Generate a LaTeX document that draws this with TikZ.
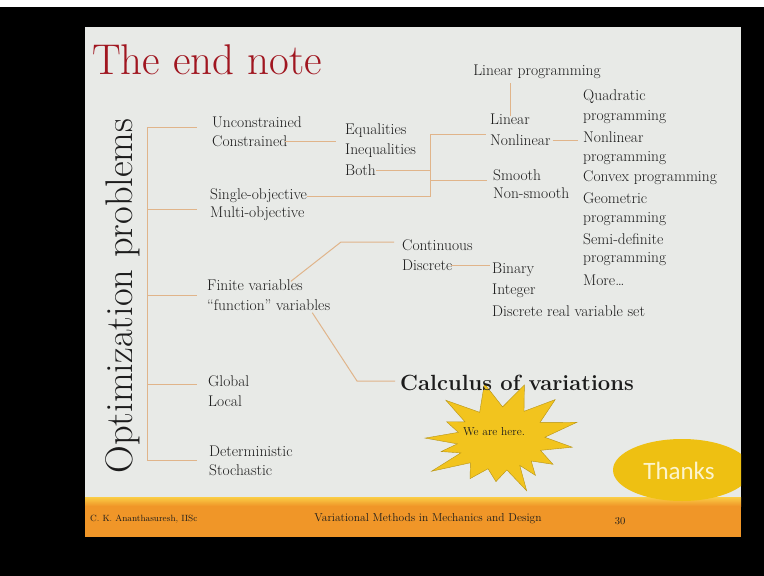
\documentclass[tikz,border=0pt]{standalone}
\usepackage{fontspec}
\newfontfamily\thanksfont{Carlito}
\usetikzlibrary{calc}

\definecolor{slidebg}{RGB}{232,234,231}
\definecolor{titlered}{RGB}{160,22,32}
\definecolor{linkcol}{RGB}{224,180,138}
\definecolor{footorange}{RGB}{240,150,40}
\definecolor{footyellow}{RGB}{250,205,70}
\definecolor{stargold}{RGB}{242,196,30}
\definecolor{thanksgold}{RGB}{238,192,18}
\definecolor{thankstext}{RGB}{252,244,205}
\definecolor{textgrey}{RGB}{28,28,28}

\begin{document}
\begin{tikzpicture}[x=1pt, y=-1pt,
  txt/.style={anchor=west, inner sep=0pt, text=textgrey, font=\fontsize{15.5}{17}\selectfont},
  link/.style={draw=linkcol, line width=1pt},
  foot/.style={inner sep=0pt, text=textgrey, font=\fontsize{10.5}{12}\selectfont}]
\useasboundingbox (0,0) rectangle (764,576);

  % frame and slide
  \fill [black] (0,0) rectangle (764,576);
  \fill [white] (0,0) rectangle (764,7);
  \fill [slidebg] (85,27) rectangle (741,537);
  \fill [footorange] (85,498) rectangle (741,537);
  \shade [top color=footyellow, bottom color=footorange] (85,497) rectangle (741,506);

  % title
  \draw (92,74) node [anchor=base west, inner sep=0pt, text=titlered,
    font=\fontsize{43}{50}\selectfont] (ttl) {The end note};
  \draw (123,296) node [rotate=90, inner sep=0pt, text=textgrey,
    font=\fontsize{38.5}{42}\selectfont] (opt) {Optimization problems};

  % star (behind the text)
  \begin{scope}[shift={(501,440)}, yscale=0.72]
    \fill [stargold, draw=stargold!75!black, line width=0.4pt] (8:72)
      \foreach \a/\r in {20/42, 33/62, 44/42, 55/60, 62/40, 70/75, 82/42, 95/58, 108/42,
        120/62, 134/44, 148/82, 156/44, 165/62, 173/44, 182/76, 194/44, 205/60, 215/44,
        225/78, 241/44, 258/80, 272/46, 287/80, 300/46, 314/78, 328/46, 342/80, 355/44}
        { -- (\a:\r) } -- cycle;
  \end{scope}
  \draw (494,432) node [inner sep=0pt, text=textgrey, font=\fontsize{11.5}{13}\selectfont] (here) {We are here.};

  % first level
  \draw (212,122) node [txt] (uncon) {Unconstrained};
  \draw (212,141) node [txt] (con) {Constrained};
  \draw (210,196) node [txt] (sobj) {Single-objective};
  \draw (210,214) node [txt] (mobj) {Multi-objective};
  \draw (207,285) node [txt] (fin) {Finite variables};
  \draw (207,305) node [txt] (fun) {``function'' variables};
  \draw (208,381) node [txt] (glob) {Global};
  \draw (208,401) node [txt] (loc) {Local};
  \draw (209,451) node [txt] (det) {Deterministic};
  \draw (209,470) node [txt] (sto) {Stochastic};

  % constraints
  \draw (345,131) node [txt] (eq) {Equalities};
  \draw (345,151) node [txt] (ineq) {Inequalities};
  \draw (345,170) node [txt] (both) {Both};

  % linear / smooth
  \draw (537,72) node [txt, anchor=center] (lp) {Linear programming};
  \draw (490,119) node [txt] (lin) {Linear};
  \draw (490,140) node [txt] (nlin) {Nonlinear};
  \draw (493,175) node [txt] (smo) {Smooth};
  \draw (493,193) node [txt] (nsmo) {Non-smooth};

  % nonlinear kinds
  \draw (583,97) node [txt] (quad) {Quadratic};
  \draw (583,117) node [txt] (p1) {programming};
  \draw (583,137) node [txt] (nlp) {Nonlinear};
  \draw (583,158) node [txt] (p2) {programming};
  \draw (583,178) node [txt] (cvx) {Convex programming};
  \draw (583,198) node [txt] (geo) {Geometric};
  \draw (583,219) node [txt] (p3) {programming};
  \draw (583,239) node [txt] (sdef) {Semi-definite};
  \draw (583,259) node [txt] (p4) {programming};
  \draw (583,280) node [txt] (more) {More\ldots};

  % variables
  \draw (402,245) node [txt] (cont) {Continuous};
  \draw (402,265) node [txt] (disc) {Discrete};
  \draw (492,270) node [txt] (bin) {Binary};
  \draw (492,291) node [txt] (int) {Integer};
  \draw (492,311) node [txt] (dset) {Discrete real variable set};
  \draw (400,383) node [txt, font=\bfseries\fontsize{22}{24}\selectfont] (cov) {Calculus of variations};

  % bracket
  \coordinate (b1) at (147,127);
  \coordinate (b2) at (147,209);
  \coordinate (b3) at (147,295);
  \coordinate (b4) at (147,384);
  \coordinate (b5) at (147,460);
  \draw [link] (b1) -- (b5);
  \draw [link] (b1) -- ++(50,0);
  \draw [link] (b2) -- ++(50,0);
  \draw [link] (b3) -- ++(50,0);
  \draw [link] (b4) -- ++(50,0);
  \draw [link] (b5) -- ++(50,0);

  % joins
  \coordinate (jt) at (430,134);
  \coordinate (jm) at (430,180);
  \coordinate (jb) at (430,197);
  \draw [link] ([xshift=-2pt]con.east) -- ([xshift=-9pt]con.east -| eq.west);
  \draw [link] (both.east) -- (both.east -| jt);
  \draw [link] (sobj.east) -- (sobj.east -| jb);
  \draw [link] (jt) -- (jb);
  \draw [link] (jt) -- ([xshift=-4pt]jt -| nlin.west);
  \draw [link] (jm) -- ([xshift=-6pt]jm -| smo.west);
  \draw [link] ([yshift=-3pt]lin.north) -- ([yshift=-4pt]lin.north |- lp.south);
  \draw [link] ([xshift=2pt]nlin.east) -- ([xshift=-5pt]nlin.east -| nlp.west);
  \draw [link] ([xshift=-2pt]disc.east) -- ([xshift=-2pt]disc.east -| bin.west);
  \coordinate (kf) at (341,242);
  \draw [link] ([xshift=-12pt,yshift=-2pt]fin.north east) -- (kf) -- ([xshift=-8pt]kf -| cont.west);
  \coordinate (kc) at (357,381);
  \draw [link] ([xshift=-18pt,yshift=-2pt]fun.south east) -- (kc) -- ([xshift=-5pt]kc -| cov.west);

  % thanks
  \begin{scope}
    \clip (85,27) rectangle (741,537);
    \fill [thanksgold] (682,470) ellipse [x radius=69pt, y radius=31pt];
  \end{scope}
  \draw (679,471) node [inner sep=0pt, text=thankstext, font=\thanksfont\fontsize{25}{28}\selectfont] (thx) {Thanks};

  % footer
  \draw (90,519) node [foot, anchor=west, font=\fontsize{9}{11}\selectfont] (auth) {C. K. Ananthasuresh, IISc};
  \draw (428,519) node [foot, font=\fontsize{11.5}{13}\selectfont] (course) {Variational Methods in Mechanics and Design};
  \draw (620,521) node [foot] (pg) {30};
\end{tikzpicture}
\end{document}
